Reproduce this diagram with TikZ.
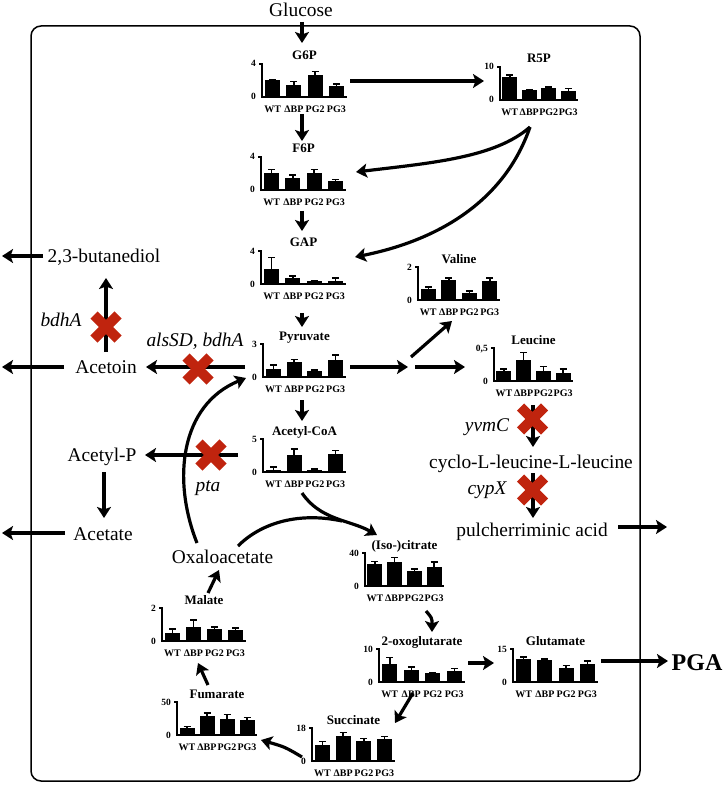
\documentclass[tikz,border=0pt]{standalone}
\usepackage{fontspec}
\setmainfont{Liberation Serif}
\usetikzlibrary{arrows.meta,calc}
\definecolor{koRed}{RGB}{192,36,14}
\tikzset{
 arr/.style={line width=3.2pt, -{Stealth[length=11pt,width=14pt,inset=2.5pt]}},
 met/.style={font=\fontsize{19.4}{22}\selectfont, inner sep=0pt, anchor=base},
 gene/.style={font=\fontsize{19.4}{22}\selectfont\itshape, inner sep=0pt, anchor=base},
 ctitle/.style={font=\fontsize{13}{15}\selectfont\bfseries, inner sep=0pt, anchor=base},
 clab/.style={font=\fontsize{10}{11}\selectfont\bfseries, inner sep=0pt, anchor=base},
 ctick/.style={font=\fontsize{9.5}{10}\selectfont\bfseries, inner sep=0pt, anchor=base east},
 axisl/.style={line width=2.2pt},
 xaxisl/.style={line width=2.8pt},
 errb/.style={line width=1.5pt},
 koline/.style={line width=10pt, draw=koRed},
 frame/.style={line width=1.5pt, rounded corners=10pt},
}
% #1 name, #2 x0, #3 y0, #4 axis width, #5 max label, #6 max value, #7 title, #8 list v/e
\newcommand{\mchart}[8]{%
 \begin{scope}[shift={(#2,#3)}]
  \node[ctitle] (#1-t) at (#4/2,-37) {#7};
  \node[ctick] (#1-max) at (-6,-30) {#5};
  \node[ctick] (#1-min) at (-6,3) {0};
  \foreach \vv/\ee [count=\ii] in {#8} {
    \pgfmathsetmacro\mcx{(\ii-0.5)*#4/4}
    \pgfmathsetmacro\mct{-\vv/#6*33}
    \pgfmathsetmacro\mce{-\ee/#6*33}
    \fill (\mcx-7.5,0) rectangle (\mcx+7.5,\mct);
    \draw[errb] (\mcx,\mct) -- (\mcx,\mce) (\mcx-3.5,\mce) -- (\mcx+3.5,\mce);
    \node[clab] (#1-l\ii) at (\mcx,15.5) {\ifcase\ii\or WT\or ΔBP\or PG2\or PG3\fi};
  }
  \draw[axisl] (-3,-33) -- (0,-33) -- (0,1);
  \draw[xaxisl] (-1,0) -- (#4,0);
 \end{scope}}
\newcommand{\knock}[3]{%
 \coordinate (#1) at (#2,#3);
 \draw[koline] ($(#1)+(-12,-12)$) -- ($(#1)+(12,12)$) ($(#1)+(-12,12)$) -- ($(#1)+(12,-12)$);}
\newcommand{\conn}[5]{%
 \coordinate (#1-s) at (#2,#3);
 \coordinate (#1-e) at (#4,#5);
 \draw[arr] (#1-s) -- (#1-e);}
\begin{document}
\begin{tikzpicture}[x=1pt,y=-1pt]
\useasboundingbox (0,0) rectangle (726,786);
\draw[frame] (31,26) rectangle (640,781);

% charts
\mchart{g6p}{262}{97}{85}{4}{4}{G6P}{2.1/2.15,1.5/1.9,2.7/3.1,1.3/1.6}
\mchart{r5p}{500}{100}{78}{10}{10}{R5P}{7.0/7.5,3.1/3.2,3.6/4.0,2.8/3.5}
\mchart{f6p}{261}{190}{85}{4}{4}{F6P}{2.0/2.5,1.5/1.8,2.1/2.5,1.1/1.3}
\mchart{gap}{261}{284}{85}{4}{4}{GAP}{1.8/3.2,0.7/1.0,0.4/0.45,0.4/0.7}
\mchart{pyr}{263}{377}{83}{3}{3}{Pyruvate}{0.76/1.07,1.33/1.58,0.57/0.62,1.55/2.0}
\mchart{acoa}{263}{472}{83}{5}{5}{Acetyl-CoA}{0.37/0.77,2.6/3.5,0.37/0.45,2.7/3.25}
\mchart{val}{418}{300}{82}{2}{2}{Valine}{0.64/0.8,1.2/1.34,0.44/0.56,1.14/1.34}
\mchart{leu}{494}{381}{79}{0,5}{0.5}{Leucine}{0.154/0.18,0.32/0.43,0.154/0.22,0.12/0.18}
\mchart{cit}{365}{586}{79}{40}{40}{(Iso-)citrate}{26.4/29.6,28.9/34.6,18.1/20.6,23.5/28.9}
\mchart{oxo}{379}{682}{86}{10}{10}{2-oxoglutarate}{5.4/7.4,3.6/4.6,2.6/2.8,3.4/4.1}
\mchart{glu}{513}{682}{85}{15}{15}{Glutamate}{10.4/11.3,10.0/10.4,6.5/7.4,8.2/9.6}
\mchart{suc}{312}{761}{83}{18}{18}{Succinate}{8.7/10.6,13.7/15.6,10.9/12.4,11.9/13.3}
\mchart{mal}{162}{641}{84}{2}{2}{Malate}{0.46/0.72,0.83/1.28,0.72/0.86,0.66/0.8}
\mchart{fum}{177}{735}{80}{50}{50}{Fumarate}{10.4/12.9,28.3/33.6,24.8/31,23.2/26.8}

% metabolite texts
\node[met] (glc) at (301,16.5) {Glucose};
\node[met] (but) at (104,262.5) {2,3-butanediol};
\node[met] (act) at (106,373) {Acetoin};
\node[met] (acp) at (102,461.5) {Acetyl-P};
\node[met] (ace) at (103,540) {Acetate};
\node[met] (oaa) at (222.5,563.5) {Oxaloacetate};
\node[met] (cyc) at (531,468) {cyclo-L-leucine-L-leucine};
\node[met] (pul) at (532,536) {pulcherriminic acid};
\node[font=\fontsize{24}{26}\selectfont\bfseries, inner sep=0pt, anchor=base] (pga) at (697,670) {PGA};
% gene names
\node[gene] (g-bdh) at (61,326.5) {bdhA};
\node[gene] (g-als) at (195,346.5) {alsSD, bdhA};
\node[gene] (g-pta) at (208,491) {pta};
\node[gene] (g-yvm) at (487,431) {yvmC};
\node[gene] (g-cyp) at (487,494.5) {cypX};

% straight connectors
\conn{c1}{302}{22}{302}{43}
\conn{c2}{350}{81}{484}{81}
\conn{c3}{302}{114}{302}{141}
\conn{c4}{302}{211}{302}{231}
\conn{c5}{302}{313}{302}{327}
\conn{c6}{302}{400}{302}{421}
\conn{c7}{350}{367}{408}{367}
\conn{c8}{411}{357}{452}{321}
\conn{c9}{415}{367}{465}{367}
\conn{c10}{245}{367}{146}{367}
\conn{c11}{106}{352}{106}{278}
\conn{c12}{64}{367}{2}{367}
\conn{c13}{43}{256}{2}{256}
\conn{c14}{238}{455}{145}{455}
\conn{c15}{104}{472}{104}{518}
\conn{c16}{65}{533}{2}{533}
\conn{c17}{468}{663}{494}{663}
\conn{c18}{413}{693}{395}{723}
\conn{c19}{601}{661}{668}{661}
\conn{c20}{208}{685}{198}{663}
\conn{c21}{208}{593}{219}{570}
\conn{c22}{533}{405}{533}{447}
\conn{c23}{533}{473}{533}{518}
\conn{c24}{618}{527}{667}{527}

% curved connectors
\coordinate (r5p-out) at (530,127);
\coordinate (f6p-in) at (356,172);
\coordinate (gap-in) at (355,257);
\draw[arr] (r5p-out) .. controls (495,158) and (430,163) .. (f6p-in);
\draw[arr] (r5p-out) .. controls (505,200) and (440,240) .. (gap-in);
\coordinate (oaa-up) at (197,543);
\coordinate (pyr-in) at (246,378);
\draw[arr] (oaa-up) .. controls (172,480) and (180,405) .. (pyr-in);
\coordinate (acoa-out) at (302,493);
\coordinate (cit-in) at (377,535);
\coordinate (oaa-right) at (238,546);
\coordinate (merge) at (342,521);
\draw[arr] (acoa-out) .. controls (320,520) and (350,520) .. (cit-in);
\draw[line width=3.2pt] (oaa-right) .. controls (262,522) and (300,512) .. (merge);
\coordinate (cit-out) at (426,611);
\coordinate (oxo-in) at (432,632);
\draw[arr] (cit-out) .. controls (432,618) .. (oxo-in);
\coordinate (suc-out) at (302,757);
\coordinate (fum-in) at (261,740);
\draw[arr] (suc-out) .. controls (285,747) .. (fum-in);

% knockouts
\knock{k1}{106}{327}
\knock{k2}{198}{369}
\knock{k3}{211}{455}
\knock{k4}{532.5}{419}
\knock{k5}{532.5}{490}
\end{tikzpicture}
\end{document}
